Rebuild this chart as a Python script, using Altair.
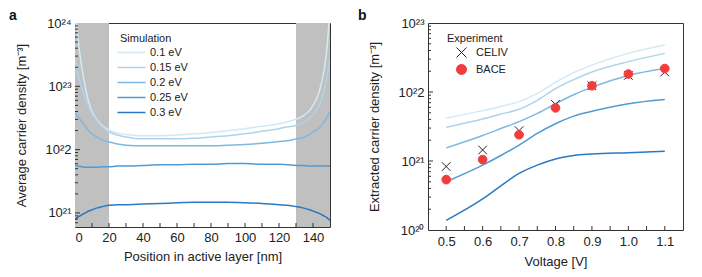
import altair as alt
import pandas as pd

FONT = "Liberation Sans, Arial, sans-serif"

energies = ["0.1 eV", "0.15 eV", "0.2 eV", "0.25 eV", "0.3 eV"]
line_colors = ["#d3e9f3", "#aed3ea", "#7db8df", "#529bd2", "#2b79c2"]

# ---- panel a: position in active layer [nm] vs log10(average carrier density)
pos_nm = [0, 2, 4, 6, 8, 10, 13, 16, 20, 25, 30, 40, 50, 60, 70, 80, 90, 100,
          110, 120, 125, 130, 134, 138, 140, 142, 144, 146, 148, 150]
log_a_01 = [24.3, 23.7, 23.3, 23.0, 22.76, 22.6, 22.47, 22.38, 22.31, 22.26, 22.24, 22.22, 22.22, 22.23,
            22.25, 22.27, 22.30, 22.33, 22.37, 22.41, 22.44, 22.48, 22.53, 22.62, 22.70, 22.80, 22.95,
            23.18, 23.55, 24.2]
log_a_015 = [23.47, 23.17, 22.98, 22.82, 22.68, 22.57, 22.45, 22.36, 22.28, 22.23, 22.20, 22.17, 22.17,
             22.17, 22.18, 22.20, 22.22, 22.25, 22.29, 22.33, 22.36, 22.38, 22.42, 22.50, 22.55, 22.62,
             22.72, 22.88, 23.10, 23.42]
log_a_02 = [22.60, 22.51, 22.44, 22.37, 22.30, 22.25, 22.20, 22.15, 22.12, 22.09, 22.07, 22.06, 22.06,
            22.06, 22.06, 22.06, 22.07, 22.08, 22.10, 22.13, 22.14, 22.17, 22.19, 22.24, 22.28, 22.31,
            22.35, 22.42, 22.50, 22.60]
log_a_025 = [21.75, 21.74, 21.73, 21.72, 21.72, 21.72, 21.72, 21.73, 21.73, 21.74, 21.74, 21.75, 21.76,
             21.76, 21.77, 21.77, 21.78, 21.78, 21.77, 21.77, 21.76, 21.75, 21.75, 21.74, 21.74, 21.74,
             21.74, 21.74, 21.74, 21.74]
log_a_03 = [20.90, 20.94, 20.97, 21.00, 21.03, 21.05, 21.08, 21.10, 21.12, 21.13, 21.13, 21.14, 21.15,
            21.16, 21.17, 21.17, 21.17, 21.16, 21.15, 21.13, 21.12, 21.10, 21.08, 21.05, 21.03, 21.01,
            20.99, 20.96, 20.93, 20.88]
shade_start = [0, 130]
shade_end = [20, 150]

# ---- panel b: voltage [V] vs log10(extracted carrier density)
volt_sim = [0.5, 0.6, 0.65, 0.7, 0.75, 0.8, 0.85, 0.9, 1.0, 1.1]
log_b_01 = [21.62, 21.73, 21.79, 21.86, 21.98, 22.14, 22.28, 22.39, 22.56, 22.68]
log_b_015 = [21.49, 21.61, 21.68, 21.75, 21.88, 22.05, 22.18, 22.29, 22.44, 22.56]
log_b_02 = [21.19, 21.37, 21.47, 21.57, 21.69, 21.83, 21.96, 22.07, 22.24, 22.34]
log_b_025 = [20.70, 20.94, 21.08, 21.23, 21.40, 21.54, 21.65, 21.72, 21.83, 21.89]
log_b_03 = [20.14, 20.45, 20.64, 20.82, 20.94, 21.03, 21.08, 21.10, 21.12, 21.14]
volt_exp = [0.5, 0.6, 0.7, 0.8, 0.9, 1.0, 1.1]
log_celiv = [20.92, 21.16, 21.44, 21.82, 22.09, 22.24, 22.29]
log_bace = [20.73, 21.02, 21.38, 21.77, 22.09, 22.26, 22.34]
methods = ["CELIV", "BACE"]

# tick positions
xa_ticks = [10, 20, 30, 40, 50, 60, 70, 80, 90, 100, 110, 120, 130, 140]
xa_labels = [0, 20, 40, 60, 80, 100, 120, 140]
ya_major = [1e21, 1e22, 1e23]
ya_minor = [7e20, 8e20, 9e20] + [m * 10.0 ** e for e in (21, 22, 23) for m in range(2, 10)]
xb_ticks = [0.5, 0.55, 0.6, 0.65, 0.7, 0.75, 0.8, 0.85, 0.9, 0.95, 1.0, 1.05, 1.1]
xb_labels = [0.5, 0.6, 0.7, 0.8, 0.9, 1.0, 1.1]
yb_major = [1e21, 1e22]
yb_minor = [m * 10.0 ** e for e in (20, 21, 22) for m in range(2, 10)]

W = 255
HA = 204
HB = 207

sup_expr = ("'10' + replace(replace(replace(replace(replace(format(round(log(datum.value)/LN10), 'd'),"
            "'0','⁰'),'1','¹'),'2','²'),'3','³'),'4','⁴')")

rows = []
for e, vals in zip(energies, [log_a_01, log_a_015, log_a_02, log_a_025, log_a_03]):
    for p, v in zip(pos_nm, vals):
        rows.append({"pos": p, "n": 10 ** v, "energy": e})
df_a = pd.DataFrame(rows)

rows = []
for e, vals in zip(energies, [log_b_01, log_b_015, log_b_02, log_b_025, log_b_03]):
    for p, v in zip(volt_sim, vals):
        rows.append({"pos": p, "n": 10 ** v, "energy": e})
df_b = pd.DataFrame(rows)

rows = []
for m, vals in zip(methods, [log_celiv, log_bace]):
    for p, v in zip(volt_exp, vals):
        rows.append({"pos": p, "n": 10 ** v, "method": m})
df_pts = pd.DataFrame(rows)


def xa():
    return alt.X("pos:Q", scale=alt.Scale(domain=[0, 150], nice=False, zero=False),
                 axis=alt.Axis(title="Position in active layer [nm]", values=xa_labels,
                               labelPadding=4, titlePadding=6))


def ya():
    return alt.Y("n:Q", scale=alt.Scale(type="log", domain=[6e20, 1e24], nice=False),
                 axis=alt.Axis(title="Average carrier density [m⁻³]", values=[1e21, 1e22, 1e23, 1e24],
                               labelExpr=sup_expr, labelPadding=4, titlePadding=16))


def xb():
    return alt.X("pos:Q", scale=alt.Scale(domain=[0.45, 1.15], nice=False, zero=False),
                 axis=alt.Axis(title="Voltage [V]", values=xb_labels, format=".1f",
                               labelPadding=5, titlePadding=7))


def yb():
    return alt.Y("n:Q", scale=alt.Scale(type="log", domain=[1e20, 1e23], nice=False),
                 axis=alt.Axis(title="Extracted carrier density [m⁻³]", values=[1e20, 1e21, 1e22, 1e23],
                               labelExpr=sup_expr, labelPadding=4, titlePadding=16))


TICK = "#333333"

# ---------- panel a
shade = alt.Chart(pd.DataFrame({"pos": shade_start, "pos2": shade_end})).mark_rect(
    color="#c0c0c0").encode(x=xa(), x2="pos2:Q", y=alt.value(0), y2=alt.value(HA))

lines_a = alt.Chart(df_a).mark_line(strokeWidth=1.5, clip=True, interpolate="monotone").encode(
    x=xa(), y=ya(),
    color=alt.Color("energy:N", sort=energies,
                    scale=alt.Scale(domain=energies, range=line_colors),
                    legend=alt.Legend(title="Simulation", orient="none", legendX=45, legendY=10,
                                      symbolType="M-2.67,0H6.67", symbolSize=36, symbolStrokeWidth=1.5,
                                      labelOffset=19, rowPadding=3, padding=0, titlePadding=3,
                                      titleFontSize=11, titleFontWeight="normal", labelFontSize=11,
                                      titleFont=FONT, labelFont=FONT, titleColor="#222",
                                      labelColor="#222")),
)

tx_a = alt.Chart(pd.DataFrame({"pos": xa_ticks})).mark_rule(color=TICK).encode(
    x=xa(), y=alt.value(HA), y2=alt.value(HA - 4))
tyM_a = alt.Chart(pd.DataFrame({"n": ya_major})).mark_rule(color=TICK).encode(
    y=ya(), x=alt.value(0), x2=alt.value(5))
tym_a = alt.Chart(pd.DataFrame({"n": ya_minor})).mark_rule(color=TICK).encode(
    y=ya(), x=alt.value(0), x2=alt.value(3))

panel_a = alt.layer(shade, lines_a, tx_a, tyM_a, tym_a).properties(
    width=W, height=HA,
    title=alt.TitleParams("a", anchor="start", frame="bounds", fontSize=14, fontWeight="bold",
                          font=FONT, offset=-6, dx=-7, color="#111"))

# ---------- panel b
lines_b = alt.Chart(df_b).mark_line(strokeWidth=1.5, interpolate="monotone").encode(
    x=xb(), y=yb(),
    color=alt.Color("energy:N", sort=energies,
                    scale=alt.Scale(domain=energies, range=line_colors), legend=None),
)

leg_b = alt.Legend(title="Experiment", orient="none", legendX=19, legendY=10,
                   symbolOffset=9, labelOffset=9, rowPadding=2, padding=0, titlePadding=3,
                   titleFontSize=11, titleFontWeight="normal", labelFontSize=11,
                   titleFont=FONT, labelFont=FONT, titleColor="#222", labelColor="#222",
                   symbolStrokeWidth=1)

pts_b = alt.Chart(df_pts).mark_point(size=75, strokeWidth=1, opacity=1).encode(
    x=xb(), y=yb(),
    shape=alt.Shape("method:N", sort=methods,
                    scale=alt.Scale(domain=methods, range=["M-1,-1L1,1M-1,1L1,-1", "circle"]),
                    legend=leg_b),
    stroke=alt.Stroke("method:N", sort=methods,
                      scale=alt.Scale(domain=methods, range=["#222222", "#f23c3c"]), legend=leg_b),
    fill=alt.Fill("method:N", sort=methods,
                  scale=alt.Scale(domain=methods, range=["transparent", "#f23c3c"]), legend=leg_b),
)

tx_b = alt.Chart(pd.DataFrame({"pos": xb_ticks})).mark_rule(color=TICK).encode(
    x=xb(), y=alt.value(HB), y2=alt.value(HB - 4))
tyM_b = alt.Chart(pd.DataFrame({"n": yb_major})).mark_rule(color=TICK).encode(
    y=yb(), x=alt.value(0), x2=alt.value(5))
tym_b = alt.Chart(pd.DataFrame({"n": yb_minor})).mark_rule(color=TICK).encode(
    y=yb(), x=alt.value(0), x2=alt.value(3))

panel_b = alt.layer(lines_b, pts_b, tx_b, tyM_b, tym_b).properties(
    width=W, height=HB,
    title=alt.TitleParams("b", anchor="start", frame="bounds", fontSize=14, fontWeight="bold",
                          font=FONT, offset=-6, dx=-11, color="#111"))

chart = alt.hconcat(panel_a, panel_b, spacing=26).resolve_scale(
    color="independent", x="independent", y="independent",
    shape="independent", stroke="independent", fill="independent"
).resolve_legend(
    color="independent", shape="independent", stroke="independent", fill="independent"
).properties(
    padding={"left": 0, "top": 0, "right": 0, "bottom": 0}
).configure_view(
    stroke="#333333", strokeWidth=1
).configure_axis(
    domain=False, ticks=False, grid=False,
    labelFont=FONT, labelFontSize=13, labelColor="#222222",
    titleFont=FONT, titleFontSize=13, titleFontWeight="normal", titleColor="#222222",
)

chart.save("out.html", embed_options={"renderer": "svg", "actions": False})
